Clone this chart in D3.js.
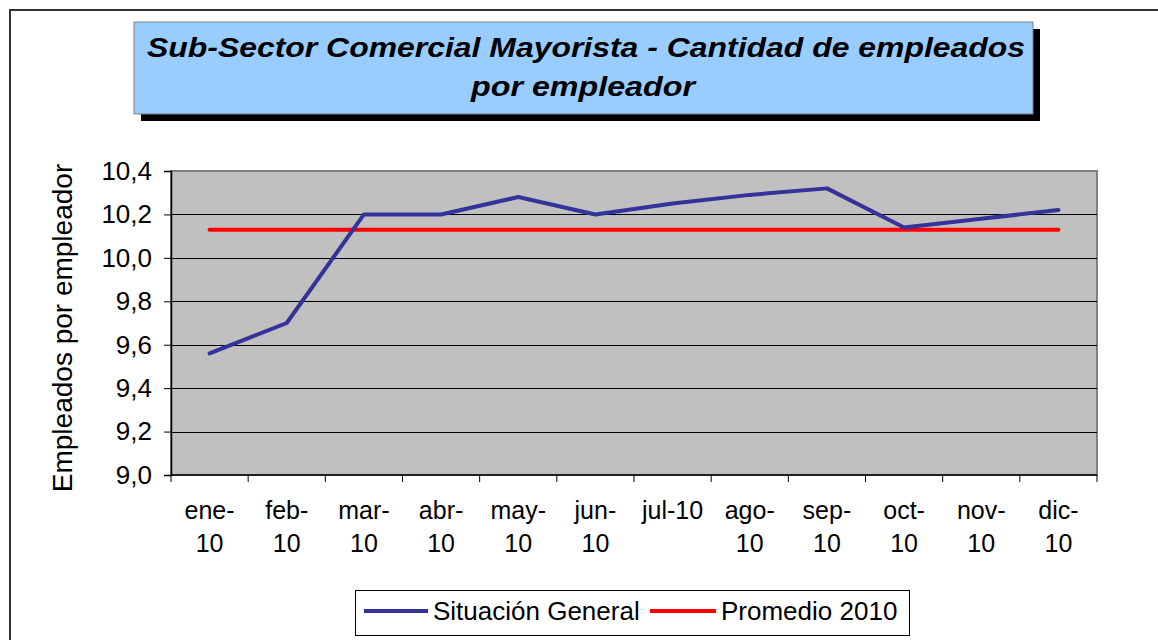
<!DOCTYPE html>
<html><head><meta charset="utf-8">
<script src="https://cdn.jsdelivr.net/npm/d3@7"></script>
<style>body{margin:0;background:#fff}svg{display:block}</style>
</head><body>
<svg id="c" width="1158" height="640"></svg>
<script>
const categories = ["ene-10","feb-10","mar-10","abr-10","may-10","jun-10","jul-10","ago-10","sep-10","oct-10","nov-10","dic-10"];
const categoryLines = [["ene-","10"],["feb-","10"],["mar-","10"],["abr-","10"],["may-","10"],["jun-","10"],["jul-10",""],["ago-","10"],["sep-","10"],["oct-","10"],["nov-","10"],["dic-","10"]];
const situacionGeneral = [9.56,9.70,10.20,10.20,10.28,10.20,10.25,10.29,10.32,10.14,10.18,10.22];
const promedio2010 = [10.13,10.13,10.13,10.13,10.13,10.13,10.13,10.13,10.13,10.13,10.13,10.13];
const yTicks = [9.0,9.2,9.4,9.6,9.8,10.0,10.2,10.4];
const seriesNames = ["Situación General","Promedio 2010"];
const titleLines = ["Sub-Sector Comercial Mayorista - Cantidad de empleados","por empleador"];
const yTitle = "Empleados por empleador";

const svg = d3.select("#c");
const F = "'Liberation Sans', Arial, sans-serif";
const L = 171, R = 1097, T = 171, B = 475;

// outer chart border
svg.append("path").attr("d","M10,640 L10,10 L1158,10").attr("fill","none").attr("stroke","#333").attr("stroke-width",2);

// title box with shadow
svg.append("rect").attr("x",141).attr("y",29).attr("width",899).attr("height",92).attr("fill","#000");
svg.append("rect").attr("x",134).attr("y",22).attr("width",899).attr("height",92).attr("fill","#99CCFF").attr("stroke","#808080").attr("stroke-width",1);
const tt = svg.append("g");
tt.append("text").attr("x",586).attr("y",57).attr("text-anchor","middle").attr("font-family",F).attr("font-size",27).attr("font-weight","bold").attr("font-style","italic").attr("textLength",878).attr("lengthAdjust","spacingAndGlyphs").text(titleLines[0]);
tt.append("text").attr("x",583).attr("y",96).attr("text-anchor","middle").attr("font-family",F).attr("font-size",27).attr("font-weight","bold").attr("font-style","italic").attr("textLength",224).attr("lengthAdjust","spacingAndGlyphs").text(titleLines[1]);

const x = d3.scaleBand().domain(categories).range([L,R]);
const y = d3.scaleLinear().domain([9.0,10.4]).range([B,T]);

// plot area
svg.append("rect").attr("x",L).attr("y",T).attr("width",R-L).attr("height",B-T).attr("fill","#C0C0C0").attr("stroke","#808080").attr("stroke-width",2);

// gridlines
svg.append("g").selectAll("line").data(yTicks.slice(1,-1)).join("line")
  .attr("x1",L).attr("x2",R).attr("y1",d=>Math.round(y(d))+0.5).attr("y2",d=>Math.round(y(d))+0.5)
  .attr("stroke","#000").attr("stroke-width",1);

// y axis
const ya = svg.append("g").attr("transform",`translate(${L},0)`)
  .call(d3.axisLeft(y).tickValues(yTicks).tickSize(7).tickPadding(12).tickFormat(d=>d3.format(".1f")(d).replace(".",",")));
ya.select(".domain").attr("stroke","#000").attr("stroke-width",1.5);
ya.selectAll(".tick line").attr("stroke","#000");
ya.selectAll("text").attr("font-family",F).attr("font-size",26).attr("fill","#000");

// x axis
const xa = svg.append("g").attr("transform",`translate(0,${B})`);
xa.append("line").attr("x1",L).attr("x2",R).attr("y1",0).attr("y2",0).attr("stroke","#000").attr("stroke-width",1.5);
const bounds = categories.map(c=>x(c)).concat([R]);
xa.selectAll("line.t").data(bounds).join("line").attr("class","t")
  .attr("x1",d=>d).attr("x2",d=>d).attr("y1",0).attr("y2",7).attr("stroke","#000");
const xl = xa.selectAll("text").data(categories).join("text")
  .attr("text-anchor","middle").attr("font-family",F).attr("font-size",25).attr("fill","#000");
xl.append("tspan").attr("x",d=>x(d)+x.bandwidth()/2).attr("y",44).text((d,i)=>categoryLines[i][0]);
xl.append("tspan").attr("x",d=>x(d)+x.bandwidth()/2).attr("y",77).text((d,i)=>categoryLines[i][1]);

// y title
svg.append("text").attr("transform",`translate(72,${(T+B)/2+5}) rotate(-90)`).attr("text-anchor","middle")
  .attr("font-family",F).attr("font-size",28).attr("fill","#000").text(yTitle);

// lines
const line = d3.line().x((d,i)=>x(categories[i])+x.bandwidth()/2).y(d=>y(d));
svg.append("path").datum(promedio2010).attr("d",line).attr("fill","none").attr("stroke","#FF0000").attr("stroke-width",4).attr("stroke-linecap","round");
svg.append("path").datum(situacionGeneral).attr("d",line).attr("fill","none").attr("stroke","#333399").attr("stroke-width",4).attr("stroke-linecap","round").attr("stroke-linejoin","round");

// legend
const lg = svg.append("g");
lg.append("rect").attr("x",355.5).attr("y",590.5).attr("width",554).attr("height",45).attr("fill","#fff").attr("stroke","#000").attr("stroke-width",1);
const legendItems = [{name:seriesNames[0],color:"#333399",x1:364,x2:428,tx:433},{name:seriesNames[1],color:"#FF0000",x1:650,x2:716,tx:721}];
legendItems.forEach(it=>{
  lg.append("line").attr("x1",it.x1).attr("x2",it.x2).attr("y1",611).attr("y2",611).attr("stroke",it.color).attr("stroke-width",4);
  lg.append("text").attr("x",it.tx).attr("y",620).attr("font-family",F).attr("font-size",26).attr("fill","#000").text(it.name);
});
</script>
</body></html>
